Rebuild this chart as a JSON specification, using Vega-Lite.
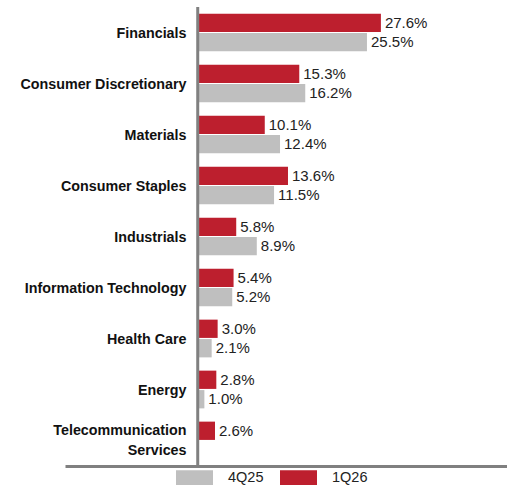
{
  "$schema": "https://vega.github.io/schema/vega-lite/v6.json",
  "width": 442,
  "height": 459,
  "autosize": "none",
  "padding": {"left": 65, "top": 7, "right": 0, "bottom": 20},
  "config": {"font": "Liberation Sans", "view": {"stroke": null}},
  "data": {
    "values": [
      {"sector": "Financials", "period": "1Q26", "share": 0.276},
      {"sector": "Financials", "period": "4Q25", "share": 0.255},
      {"sector": "Consumer Discretionary", "period": "1Q26", "share": 0.153},
      {"sector": "Consumer Discretionary", "period": "4Q25", "share": 0.162},
      {"sector": "Materials", "period": "1Q26", "share": 0.101},
      {"sector": "Materials", "period": "4Q25", "share": 0.124},
      {"sector": "Consumer Staples", "period": "1Q26", "share": 0.136},
      {"sector": "Consumer Staples", "period": "4Q25", "share": 0.115},
      {"sector": "Industrials", "period": "1Q26", "share": 0.058},
      {"sector": "Industrials", "period": "4Q25", "share": 0.089},
      {"sector": "Information Technology", "period": "1Q26", "share": 0.054},
      {"sector": "Information Technology", "period": "4Q25", "share": 0.052},
      {"sector": "Health Care", "period": "1Q26", "share": 0.030},
      {"sector": "Health Care", "period": "4Q25", "share": 0.021},
      {"sector": "Energy", "period": "1Q26", "share": 0.028},
      {"sector": "Energy", "period": "4Q25", "share": 0.010},
      {"sector": "Telecommunication Services", "period": "1Q26", "share": 0.026}
    ]
  },
  "layer": [
    {
      "mark": {"type": "bar"},
      "encoding": {
        "y": {
          "field": "sector", "type": "nominal", "sort": null,
          "scale": {"paddingInner": 0.26, "paddingOuter": 0.13},
          "axis": {
            "title": null, "domain": false, "ticks": false, "tickSize": 0,
            "labelPadding": -121, "labelFontSize": 14.3, "labelFontWeight": "bold",
            "labelColor": "#111111", "labelLineHeight": 20, "labelLimit": 300,
            "labelOffset": {"condition": {"test": "datum.label == 'Telecommunication Services'", "value": -10}, "value": 1},
            "labelExpr": "datum.label == 'Telecommunication Services' ? ['Telecommunication', 'Services'] : datum.label"
          }
        },
        "yOffset": {"field": "period", "type": "nominal", "sort": ["1Q26", "4Q25"], "scale": {"paddingInner": 0.06}},
        "x": {
          "field": "share", "type": "quantitative",
          "scale": {"domain": [-0.2, 0.466], "nice": false, "zero": false},
          "axis": {"title": null, "labels": false, "ticks": false, "grid": false, "domain": true, "domainColor": "#808080", "domainWidth": 3}
        },
        "x2": {"datum": 0},
        "color": {
          "field": "period", "type": "nominal",
          "scale": {"domain": ["4Q25", "1Q26"], "range": ["#BFBFBF", "#BD1F2E"]},
          "legend": {
            "title": null, "orient": "none", "legendX": 111, "legendY": 452,
            "direction": "horizontal", "symbolType": "M-1,-0.4H1V0.4H-1Z",
            "symbolSize": 1369, "symbolStrokeWidth": 0, "labelFontSize": 14.5,
            "labelColor": "#222222", "labelOffset": 15, "columnPadding": 16, "padding": 0
          }
        }
      }
    },
    {
      "mark": {"type": "text", "align": "left", "dx": 4, "fontSize": 15, "color": "#222222"},
      "encoding": {
        "y": {"field": "sector", "type": "nominal", "sort": null},
        "yOffset": {"field": "period", "type": "nominal", "sort": ["1Q26", "4Q25"]},
        "x": {"field": "share", "type": "quantitative"},
        "text": {"field": "share", "type": "quantitative", "format": ".1%"}
      }
    },
    {
      "data": {"values": [{}]},
      "mark": {"type": "rule", "color": "#808080", "strokeWidth": 3},
      "encoding": {"x": {"datum": 0}}
    }
  ]
}
